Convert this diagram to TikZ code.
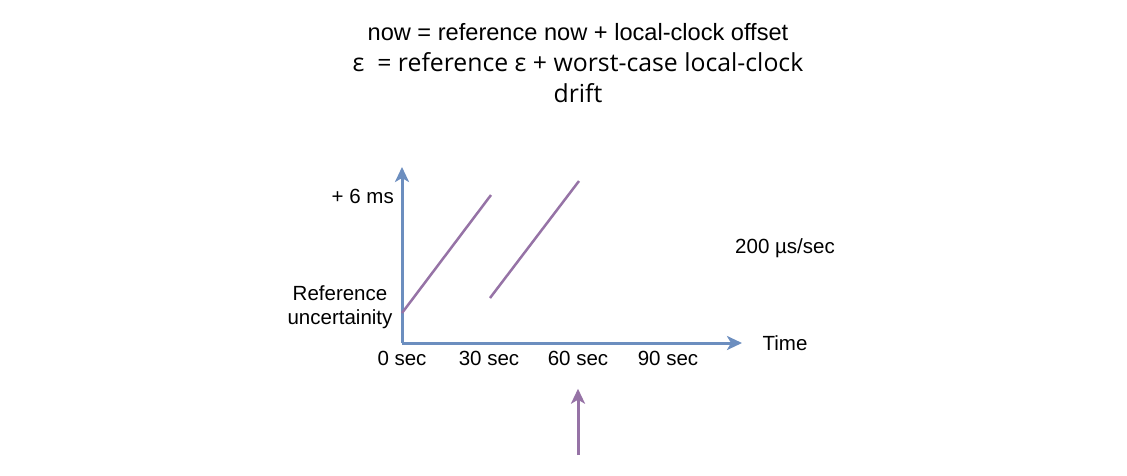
\documentclass[tikz,border=0pt]{standalone}
\usepackage{fontspec}
\setmainfont{Liberation Sans}
\newfontfamily\epsfont{Open Sans}
\usepackage{xcolor}
\usetikzlibrary{arrows.meta}

\begin{document}
\begin{tikzpicture}[x=1pt,y=-1pt,
  axis/.style={draw=axisblue,line width=3pt,-{Stealth[length=15pt,width=14pt,inset=4pt]}},
  drift/.style={draw=driftpurple,line width=2.5pt},
  lbl/.style={font=\fontsize{20.5}{24}\selectfont,inner sep=0pt}]
\definecolor{axisblue}{HTML}{6C8EBF}
\definecolor{driftpurple}{HTML}{9673A6}
\useasboundingbox (0,0) rectangle (1127,475);
\node[align=center,font=\fontsize{23.6}{31}\selectfont] (title) at (578,63)
  {now = reference now + local-clock offset\\{\epsfont\fontsize{24.8}{31}\selectfont ε\ \ = reference ε + worst-case local-clock}\\{\epsfont\fontsize{24.8}{31}\selectfont drift}};
\coordinate (origin) at (402,343);
\coordinate (ytop) at (402,167);
\coordinate (xend) at (742,343);
\draw[axis] (origin) -- (ytop);
\draw[axis] (origin) -- (xend);
\coordinate (a0) at (402,313);
\coordinate (a1) at (491,195);
\coordinate (b0) at (490,298);
\coordinate (b1) at (579,181);
\draw[drift,line cap=butt] (a0) -- (a1);
\draw[drift] (b0) -- (b1);
\node[lbl,anchor=east] (top) at (394,196) {+ 6 ms};
\node[lbl,align=center] (refunc) at (340,307) {Reference\\uncertainity};
  \foreach \name/\xx in {0/402,30/489,60/578,90/668}
  {  \node [lbl] (t\name) at (\xx,358) {\name\ sec};}
\node[lbl] (time) at (785,343) {Time};
\node[lbl] (rate) at (785,248) {200 µs/sec};
\coordinate (foot) at (578,455);
\node[inner sep=0pt] (tip) at (578,388) {};
\draw[draw=driftpurple,line width=3pt,-{Stealth[length=15pt,width=14pt,inset=4pt]}] (foot) -- (tip);
\end{tikzpicture}
\end{document}
